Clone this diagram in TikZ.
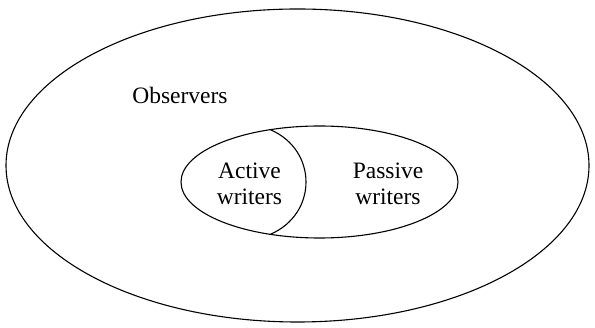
\documentclass[tikz,border=0pt]{standalone}
\usepackage{fontspec}
\setmainfont{Liberation Serif}
\begin{document}
\begin{tikzpicture}[x=1pt,y=-1pt,
  setline/.style={draw=black,line width=1.1pt},
  lbl/.style={font=\fontsize{23.5}{26}\selectfont,inner sep=0pt,anchor=base}]
\useasboundingbox (0,0) rectangle (595,328);
\draw[setline] (297.5,165.5) ellipse [x radius=291.5, y radius=156.5];
\draw[setline] (319.5,182) ellipse [x radius=138.5, y radius=56];
\coordinate (top) at (270,129.5);
\coordinate (bot) at (270,234.5);
\draw[setline] (top) .. controls (318,150) and (318,214) .. (bot);
\node[lbl] (obs) at (180,104) {Observers};
\node[lbl] (act1) at (249.5,179) {Active};
\node[lbl] (act2) at (249.5,205) {writers};
\node[lbl] (pas1) at (388,179) {Passive};
\node[lbl] (pas2) at (388,205) {writers};
\end{tikzpicture}
\end{document}
